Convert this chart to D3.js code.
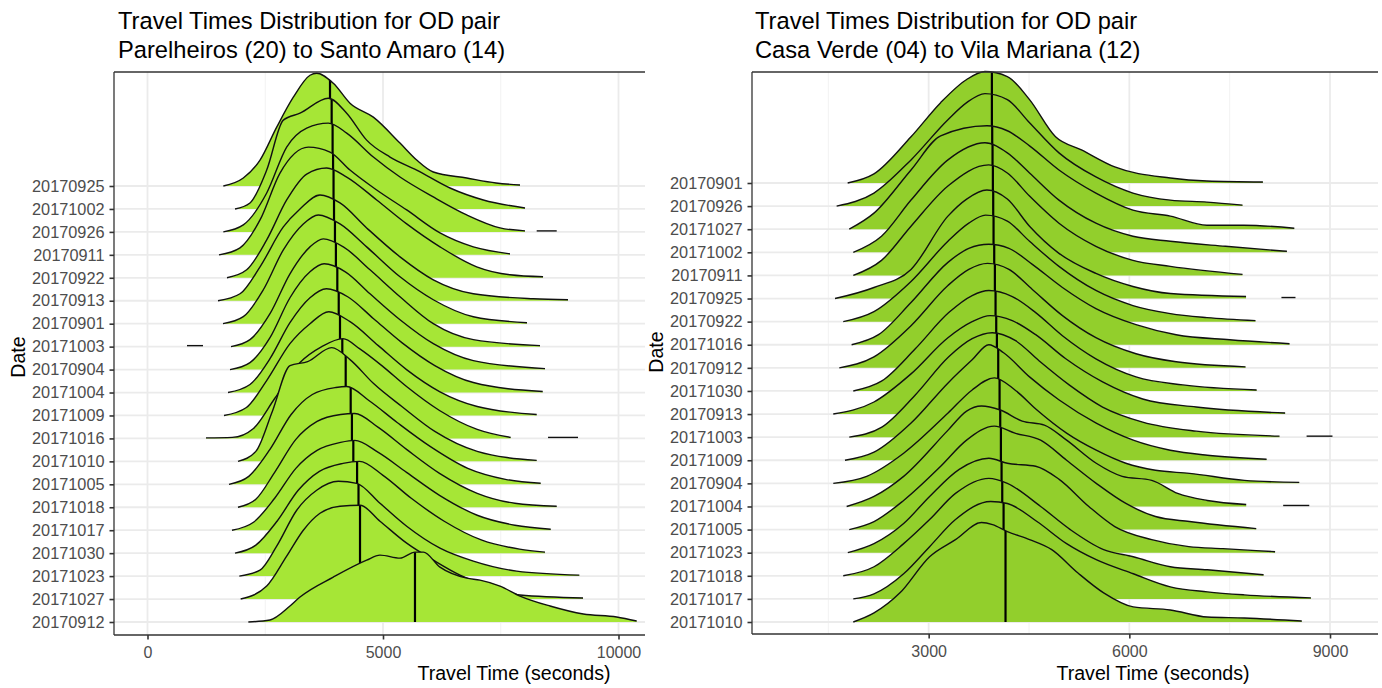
<!DOCTYPE html>
<html>
<head>
<meta charset="utf-8">
<script src="https://cdn.jsdelivr.net/npm/d3@7"></script>
<style>
  body { margin: 0; background: #fff; }
  svg text { font-family: "Liberation Sans", Arial, sans-serif; }
</style>
</head>
<body>
<svg id="chart" width="1382" height="688"></svg>
<script>
// ridgeline charts of travel times, two OD pairs side by side
// density values are relative heights (100 = about 4.3 rows tall)

const leftDates = ["20170925","20171002","20170926","20170911","20170922","20170913","20170901","20171003","20170904","20171004",
                   "20171009","20171016","20171010","20171005","20171018","20171017","20171030","20171023","20171027","20170912"];
const leftMedians = [3875,3910,3930,3940,3950,3960,3980,4000,4030,4060,4087,4136,4208,4314,4340,4370,4450,4480,4512,5679];
const leftDensity = [
  [[1610,0],[2034,8],[2389,26],[2743,59],[3096,89],[3450,111],[3592,113],[3945,103],[4299,83],[4795,69],[5361,43],[5715,26],[6068,14],[6777,8],[7400,3],[7909,1]],
  [[1858,0],[2176,6],[2531,39],[2884,89],[3238,96],[3839,111],[4229,96],[4653,69],[5149,52],[5715,39],[6423,21],[7130,9],[8015,1]],
  [[1610,0],[2034,7],[2531,39],[2955,85],[3380,104],[3839,109],[4229,99],[4795,75],[5361,55],[6068,35],[6777,17],[7484,4],[8015,1]],
  [[1518,0],[1964,7],[2389,35],[2813,82],[3414,108],[3875,103],[4299,85],[4866,65],[5503,45],[6210,22],[6918,8],[7696,1]],
  [[1688,0],[2106,8],[2531,38],[2955,78],[3380,104],[3804,110],[4229,101],[4866,78],[5503,54],[6210,31],[6989,11],[7696,3],[8398,1]],
  [[1497,0],[1964,7],[2389,34],[2884,74],[3238,92],[3662,106],[4087,98],[4653,73],[5361,44],[6068,21],[6918,7],[8191,2],[8928,1]],
  [[1603,0],[2034,7],[2459,34],[2884,74],[3308,100],[3627,109],[4087,100],[4653,77],[5361,47],[6068,24],[6918,7],[8057,1]],
  [[1773,0],[2176,7],[2601,33],[3025,73],[3450,100],[3733,108],[4158,100],[4724,77],[5361,50],[6068,23],[6918,7],[8334,1]],
  [[1752,0],[2176,7],[2601,32],[3025,72],[3450,98],[3750,106],[4200,98],[4724,76],[5361,50],[6068,26],[6918,9],[8440,1]],
  [[1709,0],[2176,8],[2601,34],[3025,70],[3450,95],[3800,104],[4250,96],[4800,74],[5400,50],[6100,27],[6918,10],[8391,1]],
  [[1624,0],[2100,8],[2530,35],[3025,72],[3450,92],[3850,104],[4300,94],[4900,70],[5500,46],[6200,24],[7000,9],[8263,1]],
  [[1242,0.5],[1800,1],[2250,10],[2700,40],[3238,76],[3700,92],[4150,100],[4500,90],[5000,72],[5500,52],[6200,28],[7000,9],[7711,1]],
  [[1921,0],[2300,10],[2650,50],[3025,96],[3400,100],[3910,114],[4300,102],[4800,78],[5400,55],[6100,30],[7000,10],[8263,1]],
  [[1730,0],[2150,8],[2600,35],[3050,70],[3500,90],[4000,97],[4229,98],[4700,84],[5300,62],[6000,38],[6800,16],[7600,5],[8348,1]],
  [[1921,0],[2300,8],[2700,35],[3150,68],[3600,86],[4100,93],[4400,94],[4900,80],[5500,58],[6200,34],[7000,14],[7800,4],[8688,1]],
  [[1794,0],[2250,8],[2700,32],[3150,62],[3600,80],[4100,88],[4400,90],[4900,78],[5500,58],[6200,35],[7000,15],[7800,5],[8561,1]],
  [[1858,0],[2300,8],[2750,32],[3200,63],[3650,82],[4150,90],[4500,92],[5000,78],[5600,55],[6300,32],[7100,13],[7900,4],[8440,1]],
  [[1949,0],[2389,6],[2743,30],[3168,66],[3592,86],[4051,95],[4441,93],[4936,73],[5503,50],[6210,28],[6918,15],[7838,5],[9168,1]],
  [[1978,0],[2531,13],[2955,43],[3308,69],[3662,86],[4087,93],[4512,94],[4936,78],[5503,56],[6068,39],[6635,24],[7272,13],[7909,4],[9247,1]],
  [[2141,0],[2600,2],[3025,16],[3238,25],[3945,45],[4653,62],[4936,67],[5361,64],[5679,70],[5856,70],[6210,55],[6777,44],[7059,42],[7484,36],[7909,26],[8546,16],[9253,8],[9961,5],[10386,1]]
];
// detached bits of a ridge: [date, from, to]
const leftBlips = [["20170926",8263,8688],["20171003",838,1178],["20171016",8504,9140]];

const rightDates = ["20170901","20170926","20171027","20171002","20170911","20170925","20170922","20171016","20170912","20171030",
                    "20170913","20171003","20171009","20170904","20171004","20171005","20171023","20171018","20171017","20171010"];
const rightMedians = [3945,3945,3950,3955,3960,3965,3970,3980,3990,4000,4010,4020,4040,4060,4070,4080,4090,4100,4120,4149];
const rightDensity = [
  [[1789,0],[2182,9],[2736,46],[3179,80],[3568,103],[3842,111],[4176,106],[4508,83],[4897,46],[5284,33],[5782,16],[6613,5],[7160,2],[7997,1]],
  [[1624,0],[2182,13],[2736,46],[3288,86],[3568,103],[3842,112],[4176,106],[4508,83],[4948,53],[5500,29],[6054,13],[6613,6],[7160,4],[7692,1]],
  [[1813,0],[2182,16],[2736,59],[3179,93],[3870,103],[4176,98],[4508,83],[4948,59],[5500,36],[6054,19],[6613,13],[7160,4],[7713,4],[8466,1]],
  [[1873,0],[2295,16],[2736,52],[3288,92],[3842,109],[4176,99],[4508,79],[4948,52],[5500,29],[6054,16],[6613,11],[7437,6],[8356,1]],
  [[1873,0],[2295,15],[2736,49],[3288,89],[3897,110],[4176,102],[4508,79],[4948,52],[5500,29],[6054,15],[6613,9],[7692,1]],
  [[1600,0],[2182,11],[2736,29],[3288,82],[3568,99],[3870,108],[4176,99],[4508,72],[4948,45],[5500,25],[6054,12],[6613,5],[7745,2]],
  [[1723,0],[2182,10],[2736,40],[3288,80],[3600,98],[3850,106],[4176,100],[4508,80],[4948,55],[5500,31],[6054,16],[6613,8],[7160,4],[7886,1]],
  [[1848,0],[2250,10],[2736,42],[3288,82],[3600,96],[3900,100],[4200,96],[4550,80],[5000,57],[5500,36],[6100,20],[6700,10],[7500,5],[8395,1]],
  [[1664,0],[2182,11],[2736,42],[3288,82],[3600,98],[3880,104],[4200,98],[4550,78],[5000,52],[5500,30],[6100,14],[6700,6],[7737,1]],
  [[1873,0],[2300,10],[2800,42],[3300,78],[3650,95],[3900,100],[4250,94],[4600,78],[5000,55],[5500,32],[6100,14],[6800,6],[7903,1]],
  [[1574,0],[2182,12],[2736,40],[3288,76],[3650,92],[3920,98],[4250,93],[4600,79],[5050,55],[5600,32],[6200,15],[7000,7],[8329,1]],
  [[1813,0],[2300,10],[2800,42],[3300,80],[3650,98],[3950,104],[4300,96],[4650,76],[5100,52],[5600,30],[6200,15],[7000,6],[8245,1]],
  [[1749,0],[2183,8],[2737,37],[3290,77],[3650,100],[3900,115],[4120,107],[4508,83],[4951,60],[5505,37],[6059,20],[6612,10],[7166,5],[8052,1]],
  [[1574,0],[2074,7],[2626,30],[3290,70],[3650,93],[3982,105],[4290,93],[4619,73],[5062,50],[5505,33],[5948,20],[6391,13],[6900,10],[7719,3],[8540,1]],
  [[1774,0],[2183,10],[2626,30],[3290,76],[3567,95],[3789,100],[4070,96],[4398,85],[4730,81],[5062,66],[5505,43],[5893,30],[6335,26],[6723,13],[7166,6],[7747,2]],
  [[1813,0],[2183,8],[2626,29],[3180,63],[3567,89],[3982,103],[4290,96],[4674,89],[5062,69],[5505,46],[5948,26],[6391,13],[6900,8],[7897,1]],
  [[1791,0],[2183,9],[2626,29],[3014,56],[3457,83],[3900,94],[4176,89],[4600,86],[4951,73],[5394,46],[5782,26],[6335,13],[6889,6],[7400,4],[8179,1]],
  [[1723,0],[2183,9],[2626,32],[3014,56],[3401,82],[3900,97],[4176,92],[4674,69],[5117,46],[5616,26],[6059,19],[6612,9],[7166,6],[8007,1]],
  [[1873,0],[2183,5],[2626,25],[3014,52],[3401,79],[3927,97],[4176,95],[4619,77],[5062,55],[5505,39],[6059,25],[6612,12],[7166,7],[7719,4],[8715,1]],
  [[1873,0],[2183,9],[2571,29],[3014,65],[3401,82],[3789,99],[3955,97],[4176,90],[4508,82],[4840,72],[5228,49],[5616,29],[6059,15],[6612,12],[7166,5],[7719,4],[8578,1]]
];
const rightBlips = [["20170925",8274,8484],["20171003",8650,9037],["20171004",8300,8690]];

const leftMajorTicks = [0, 5000, 10000];
const leftMinorTicks = [2500, 7500];
const rightMajorTicks = [3000, 6000, 9000];
const rightMinorTicks = [1500, 4500, 7500];

const svg = d3.select("#chart");

function drawPanel(p) {
    const g = svg.append("g");
    const x = d3.scaleLinear().domain(p.xDomain).range(p.xRange);
    const y = d3.scalePoint().domain(p.dates).range(p.yRange);
    // heights: 100 density units = 100/23 rows
    const h = d3.scaleLinear().domain([0, 100]).range([0, y.step() * 100 / 23]);

    // grid
    g.selectAll(".minor").data(p.minor).enter().append("line")
        .attr("x1", d => x(d)).attr("x2", d => x(d))
        .attr("y1", p.top).attr("y2", p.bottom)
        .attr("stroke", "#f2f2f2").attr("stroke-width", 1);
    g.selectAll(".major").data(p.major).enter().append("line")
        .attr("x1", d => x(d)).attr("x2", d => x(d))
        .attr("y1", p.top).attr("y2", p.bottom)
        .attr("stroke", "#ebebeb").attr("stroke-width", 1.8);
    g.selectAll(".hgrid").data(p.dates).enter().append("line")
        .attr("x1", p.left).attr("x2", p.right)
        .attr("y1", d => y(d)).attr("y2", d => y(d))
        .attr("stroke", "#ebebeb").attr("stroke-width", 1.8);

    // ridges, back (top) to front (bottom)
    p.dates.forEach(function (d, i) {
        const base = y(d);
        const area = d3.area()
            .x(k => x(k[0]))
            .y0(base)
            .y1(k => base - h(k[1]))
            .curve(d3.curveMonotoneX);
        const line = area.lineY1();
        const id = p.name + "-clip-" + i;

        g.append("clipPath").attr("id", id)
            .append("path").attr("d", area(p.density[i]));

        g.append("path")
            .attr("d", area(p.density[i]))
            .attr("fill", p.fill);

        // median line, cut by the ridge shape
        g.append("line")
            .attr("x1", x(p.medians[i])).attr("x2", x(p.medians[i]))
            .attr("y1", base).attr("y2", p.top - 5)
            .attr("clip-path", `url(#${id})`)
            .attr("stroke", "#000").attr("stroke-width", 2.2);

        g.append("path")
            .attr("d", line(p.density[i]))
            .attr("fill", "none")
            .attr("stroke", "#111")
            .attr("stroke-width", 1.4)
            .attr("stroke-linejoin", "round");

        p.blips.filter(b => b[0] == d).forEach(function (b) {
            g.append("line")
                .attr("x1", x(b[1])).attr("x2", x(b[2]))
                .attr("y1", base - h(1)).attr("y2", base - h(1))
                .attr("stroke", "#111").attr("stroke-width", 1.4);
        });
    });

    // axes
    const yAxis = g.append("g")
        .attr("transform", `translate(${p.left},0)`)
        .call(d3.axisLeft(y).tickSize(4.5).tickPadding(5));
    yAxis.select(".domain").remove();
    yAxis.selectAll(".tick line").attr("stroke", "#333").attr("stroke-width", 1.6);
    yAxis.selectAll(".tick text").attr("fill", "#4d4d4d").attr("font-size", "16.3px");

    const xAxis = g.append("g")
        .attr("transform", `translate(0,${p.bottom})`)
        .call(d3.axisBottom(x).tickValues(p.major).tickFormat(d3.format("d")).tickSize(4.5).tickPadding(7));
    xAxis.select(".domain").remove();
    xAxis.selectAll(".tick line").attr("stroke", "#333").attr("stroke-width", 1.6);
    xAxis.selectAll(".tick text").attr("fill", "#4d4d4d").attr("font-size", "16px");

    // frame lines: left, bottom, top
    g.append("line").attr("x1", p.left).attr("x2", p.left).attr("y1", p.top).attr("y2", p.bottom)
        .attr("stroke", "#333").attr("stroke-width", 1.3);
    g.append("line").attr("x1", p.left).attr("x2", p.right).attr("y1", p.bottom).attr("y2", p.bottom)
        .attr("stroke", "#333").attr("stroke-width", 1.3);
    g.append("line").attr("x1", p.left).attr("x2", p.right).attr("y1", p.top).attr("y2", p.top)
        .attr("stroke", "#333").attr("stroke-width", 1.3);

    // titles
    g.append("text").text("Travel Times Distribution for OD pair")
        .attr("x", p.titleX).attr("y", 29).attr("font-size", "23.7px").attr("fill", "#000");
    g.append("text").text(p.subtitle)
        .attr("x", p.titleX).attr("y", 58).attr("font-size", "23.7px").attr("fill", "#000");
    g.append("text").text("Travel Time (seconds)")
        .attr("x", p.xTitleX).attr("y", 680).attr("text-anchor", "middle")
        .attr("font-size", "19.6px").attr("fill", "#000");
    g.append("text").text("Date")
        .attr("transform", `translate(${p.yTitleX},${p.yTitleY}) rotate(-90)`)
        .attr("text-anchor", "middle").attr("font-size", "19.6px").attr("fill", "#000");
}

drawPanel({
    name: "left", dates: leftDates, density: leftDensity, medians: leftMedians, blips: leftBlips,
    major: leftMajorTicks, minor: leftMinorTicks,
    xDomain: [0, 10000], xRange: [147.5, 618.5], yRange: [186, 622],
    left: 114, right: 645, top: 72, bottom: 635,
    fill: "#a6e636",
    subtitle: "Parelheiros (20) to Santo Amaro (14)",
    titleX: 118, xTitleX: 514, yTitleX: 25, yTitleY: 357
});

drawPanel({
    name: "right", dates: rightDates, density: rightDensity, medians: rightMedians, blips: rightBlips,
    major: rightMajorTicks, minor: rightMinorTicks,
    xDomain: [0, 9000], xRange: [728, 1330], yRange: [183, 622],
    left: 752, right: 1378, top: 72, bottom: 634,
    fill: "#92cf2c",
    subtitle: "Casa Verde (04) to Vila Mariana (12)",
    titleX: 755, xTitleX: 1153, yTitleX: 663, yTitleY: 352
});
</script>
</body>
</html>
